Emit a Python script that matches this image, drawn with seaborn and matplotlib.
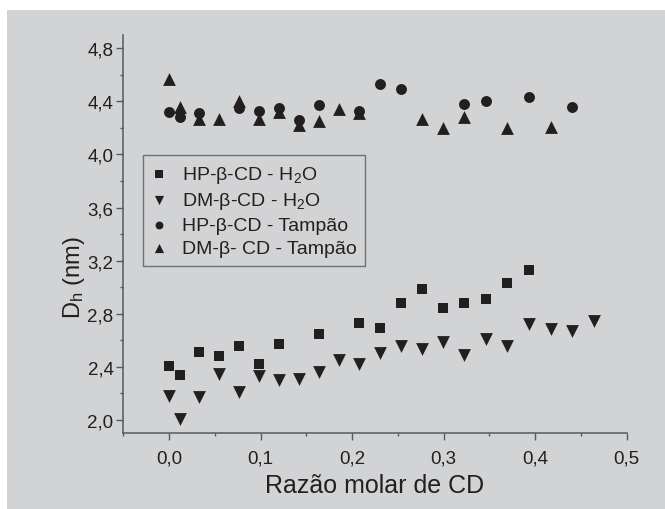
import matplotlib
matplotlib.use("Agg")
import matplotlib.pyplot as plt
import seaborn as sns
from matplotlib.ticker import MultipleLocator, FuncFormatter
from matplotlib.patches import Rectangle

# ---- data ----
hp_h2o_x = [0.0, 0.012, 0.033, 0.055, 0.077, 0.098, 0.12, 0.164, 0.208, 0.231,
            0.254, 0.277, 0.2995, 0.3226, 0.346, 0.369, 0.393]
hp_h2o_y = [2.41, 2.34, 2.51, 2.48, 2.56, 2.42, 2.57, 2.65, 2.73, 2.69,
            2.88, 2.985, 2.84, 2.88, 2.91, 3.03, 3.13]

dm_h2o_x = [0.0, 0.012, 0.033, 0.055, 0.077, 0.098, 0.12, 0.142, 0.164, 0.186,
            0.208, 0.231, 0.254, 0.277, 0.2995, 0.3226, 0.346, 0.369, 0.393,
            0.417, 0.44, 0.4645]
dm_h2o_y = [2.18, 2.01, 2.17, 2.35, 2.21, 2.33, 2.305, 2.31, 2.36, 2.45,
            2.42, 2.505, 2.555, 2.535, 2.585, 2.49, 2.61, 2.555, 2.72,
            2.685, 2.67, 2.745]

hp_tamp_x = [0.0, 0.012, 0.033, 0.077, 0.098, 0.12, 0.142, 0.164, 0.208, 0.231,
             0.254, 0.3226, 0.346, 0.393, 0.44]
hp_tamp_y = [4.32, 4.28, 4.31, 4.35, 4.33, 4.35, 4.26, 4.37, 4.33, 4.53,
             4.49, 4.38, 4.40, 4.43, 4.36]

dm_tamp_x = [0.0, 0.012, 0.033, 0.055, 0.077, 0.098, 0.12, 0.142, 0.164, 0.186,
             0.208, 0.277, 0.2995, 0.3226, 0.369, 0.417]
dm_tamp_y = [4.57, 4.36, 4.27, 4.27, 4.40, 4.27, 4.32, 4.225, 4.25, 4.345,
             4.31, 4.27, 4.20, 4.28, 4.20, 4.21]

labels = ["HP-\u03b2-CD - H$_2$O", "DM-\u03b2-CD - H$_2$O",
          "HP-\u03b2-CD - Tamp\u00e3o", "DM-\u03b2- CD - Tamp\u00e3o"]

# ---- style ----
sns.set_style("ticks")
plt.rcParams['font.family'] = ['Liberation Sans', 'DejaVu Sans']
plt.rcParams['mathtext.fontset'] = 'custom'
plt.rcParams['mathtext.rm'] = 'Liberation Sans'
plt.rcParams['mathtext.it'] = 'Liberation Sans:italic'
plt.rcParams['mathtext.default'] = 'regular'

BG = '#d1d3d4'
INK = '#231f20'
AXC = '#58595b'

W, H = 665, 510
fig = plt.figure(figsize=(W / 100, H / 100), dpi=100, facecolor='white')
fig.patches.append(Rectangle((7 / W, 0), 1, 1 - 11 / H, transform=fig.transFigure,
                             facecolor=BG, edgecolor='none', zorder=-10))
L, R, B, T = 123.3, 626.5, 434.3, 36.0
ax = fig.add_axes([L / W, 1 - B / H, (R - L) / W, (B - T) / H])
ax.set_facecolor('none')

sns.scatterplot(x=hp_h2o_x, y=hp_h2o_y, marker='s', s=52, color=INK,
                linewidth=0, ax=ax, label=labels[0])
sns.scatterplot(x=dm_h2o_x, y=dm_h2o_y, marker='v', s=85, color=INK,
                linewidth=0, ax=ax, label=labels[1])
sns.scatterplot(x=hp_tamp_x, y=hp_tamp_y, marker='o', s=62, color=INK,
                linewidth=0, ax=ax, label=labels[2])
sns.scatterplot(x=dm_tamp_x, y=dm_tamp_y, marker='^', s=85, color=INK,
                linewidth=0, ax=ax, label=labels[3])

ax.set_xlim(-0.05, 0.5)
ax.set_ylim(1.9, 4.9)
ax.xaxis.set_major_locator(MultipleLocator(0.1))
ax.xaxis.set_minor_locator(MultipleLocator(0.05))
ax.yaxis.set_major_locator(MultipleLocator(0.4))
ax.yaxis.set_minor_locator(MultipleLocator(0.2))
fmt = FuncFormatter(lambda v, p: f"{v:.1f}".replace('.', ','))
ax.xaxis.set_major_formatter(fmt)
ax.yaxis.set_major_formatter(fmt)
ax.set_yticks([2.0, 2.4, 2.8, 3.2, 3.6, 4.0, 4.4, 4.8])

for s in ['top', 'right']:
    ax.spines[s].set_visible(False)
for s in ['left', 'bottom']:
    ax.spines[s].set_color(AXC)
    ax.spines[s].set_linewidth(1.1)

ax.tick_params(axis='both', which='major', length=5, width=1.0, color=AXC,
               labelsize=13.5, labelcolor=INK, direction='out')
ax.tick_params(axis='both', which='minor', length=2.5, width=1.0, color=AXC,
               direction='out')
ax.tick_params(axis='x', which='major', pad=7)
ax.tick_params(axis='y', which='major', pad=2)

ax.set_xlabel('Raz\u00e3o molar de CD', fontsize=18, color=INK)
ax.set_ylabel('D$_h$ (nm)', fontsize=17, color=INK)
ax.yaxis.set_label_coords((87 - L) / (R - L), (B - 278) / (B - T))

leg = ax.legend(loc='upper left', bbox_to_anchor=(142.7 / W, 1 - 156 / H),
                bbox_transform=fig.transFigure, borderaxespad=0,
                frameon=True, fancybox=False, edgecolor=AXC, facecolor='none',
                fontsize=14, markerscale=0.72, handlelength=0.8,
                handletextpad=0.75, labelspacing=0.28, borderpad=0.45)
leg.get_frame().set_linewidth(1.0)
for t in leg.get_texts():
    t.set_color(INK)

fig.savefig('out.png', dpi=100, facecolor='white')
